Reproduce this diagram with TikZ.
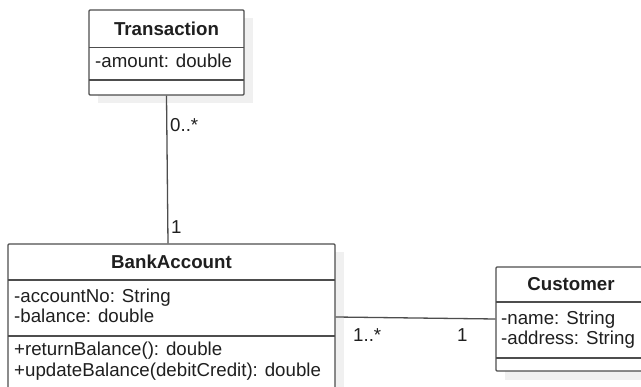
\documentclass[tikz,border=0pt]{standalone}
\usepackage{fontspec}
\setmainfont{Liberation Sans}
\definecolor{edge}{HTML}{4D4D4D}
\definecolor{ink}{HTML}{1F1F1F}
\definecolor{shadowgray}{HTML}{F0F0F0}
\begin{document}
\begin{tikzpicture}[x=1pt,y=-1pt,
  box/.style={draw=edge, line width=1.3pt, fill=white, inner sep=0pt, rounded corners=1pt},
  sep/.style={draw=edge, line width=1.3pt},
  title/.style={font=\fontsize{18.7}{20}\selectfont\bfseries, text=ink, anchor=base, inner sep=0pt},
  member/.style={font=\fontsize{18.7}{20}\selectfont, text=ink, anchor=base west, inner sep=0pt},
  mult/.style={font=\fontsize{18.7}{20}\selectfont, text=ink, anchor=base west, inner sep=0pt},
  assoc/.style={draw=edge, line width=1.3pt}]
\useasboundingbox (0,0) rectangle (641,387);
\clip (0,0) rectangle (641,387);
\fill[white] (0,0) rectangle (641,387);
% shadows
\fill[shadowgray] (98,18) rectangle (253,103);
\fill[shadowgray] (17,252) rectangle (344,400);
\fill[shadowgray] (505,275) rectangle (655,380);
% Transaction
\node[box, minimum width=155pt, minimum height=85pt] (trans) at (166.5,52.5) {};
\draw[sep] (89,47.5) -- (244,47.5);
\draw[sep] (89,80) -- (244,80);
\node[title] (transT) at (166.5,36) {Transaction};
\node[member] (transA) at (95,68) {-amount: double};
% BankAccount
\node[box, minimum width=327pt, minimum height=146pt] (bank) at (171.5,317) {};
\draw[sep] (8,280) -- (335,280);
\draw[sep] (8,336) -- (335,336);
\node[title] (bankT) at (171.5,269) {BankAccount};
\node[member] (bankA1) at (14,302.5) {-accountNo: String};
\node[member] (bankA2) at (14,322.5) {-balance: double};
\node[member] (bankM1) at (14,356) {+returnBalance(): double};
\node[member] (bankM2) at (14,376.5) {+updateBalance(debitCredit): double};
% Customer
\node[box, minimum width=150pt, minimum height=104pt] (cust) at (571,319) {};
\draw[sep] (496,302) -- (646,302);
\draw[sep] (496,358) -- (646,358);
\node[title] (custT) at (571,290.5) {Customer};
\node[member] (custA1) at (501,325) {-name: String};
\node[member] (custA2) at (501,345) {-address: String};
% associations
\draw[assoc] (trans.south) -- ([xshift=-3.5pt]bank.north);
\draw[assoc] (bank.east) -- (cust.west);
\node[mult] (m1) at (170,132) {0..*};
\node[mult] (m2) at (171,234) {1};
\node[mult] (m3) at (353,341.5) {1..*};
\node[mult] (m4) at (457,341.5) {1};
\end{tikzpicture}
\end{document}
